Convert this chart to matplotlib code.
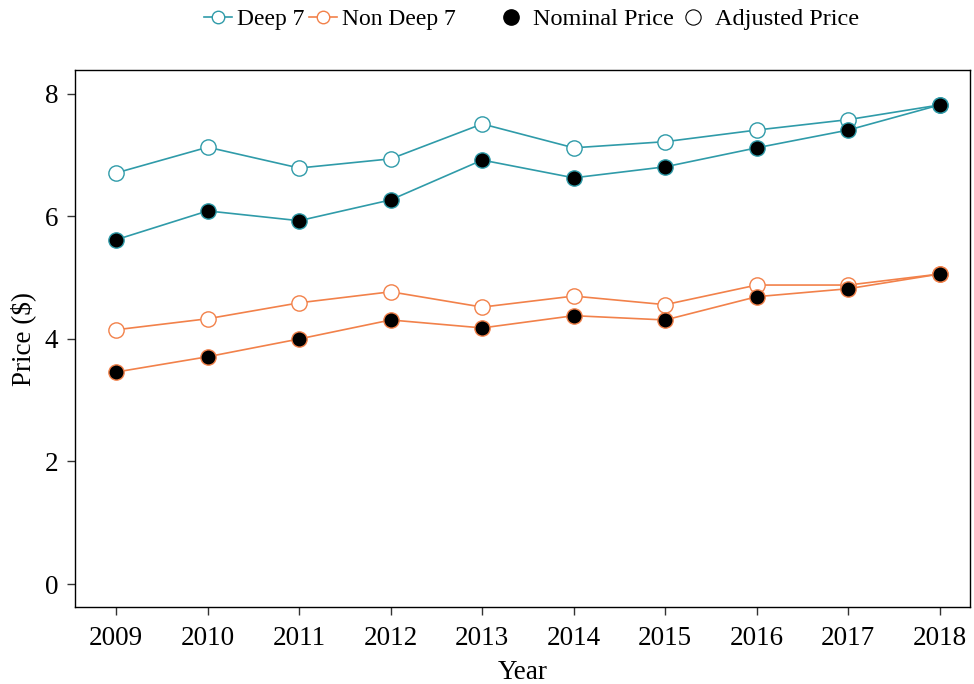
import numpy as np
import matplotlib
matplotlib.use("Agg")
import matplotlib.pyplot as plt
from matplotlib.lines import Line2D

plt.rcParams['font.family'] = ['Liberation Serif', 'DejaVu Serif']

years = [2009, 2010, 2011, 2012, 2013, 2014, 2015, 2016, 2017, 2018]

# Deep 7
deep_adj = [6.71, 7.13, 6.79, 6.94, 7.51, 7.12, 7.22, 7.41, 7.58, 7.82]
deep_nom = [5.62, 6.09, 5.93, 6.27, 6.92, 6.63, 6.81, 7.12, 7.41, 7.82]

# Non Deep 7
non_adj = [4.15, 4.33, 4.59, 4.77, 4.52, 4.70, 4.56, 4.88, 4.88, 5.06]
non_nom = [3.46, 3.71, 4.00, 4.31, 4.18, 4.38, 4.31, 4.69, 4.82, 5.06]

teal = '#2f9ba9'
orange = '#f2814a'

W, H = 974, 684
fig = plt.figure(figsize=(W / 100, H / 100), dpi=100)
ax = fig.add_axes([75 / W, 1 - 607 / H, 895 / W, 537 / H])

ms = 11
for adj, nom, c in [(deep_adj, deep_nom, teal), (non_adj, non_nom, orange)]:
    ax.plot(years, adj, color=c, lw=1.2, marker='o', ms=ms,
            mfc='white', mec=c, mew=1.0, zorder=3)
    ax.plot(years, nom, color=c, lw=1.2, marker='o', ms=ms,
            mfc='black', mec=c, mew=1.0, zorder=3)

ax.set_xlim(2008.55, 2018.33)
ax.set_ylim(-0.375, 8.39)
ax.set_xticks(years)
ax.set_yticks([0, 2, 4, 6, 8])
ax.tick_params(labelsize=19.5, length=6, width=1.0, color='#333333', pad=8)
ax.tick_params(axis='y', pad=6)
ax.set_xlabel('Year', fontsize=19.5, labelpad=6)
ax.set_ylabel('Price ($)', fontsize=19.5, labelpad=6)
for s in ax.spines.values():
    s.set_linewidth(1.0)

# legends above the plot
h1 = [Line2D([], [], color=teal, lw=1.2, marker='o', ms=9, mfc='white', mec=teal),
      Line2D([], [], color=orange, lw=1.2, marker='o', ms=9, mfc='white', mec=orange)]
leg1 = fig.legend(h1, ['Deep 7', 'Non Deep 7'], loc='center left', ncol=2,
                  bbox_to_anchor=(204 / W, 1 - 19 / H), frameon=False, fontsize=17,
                  borderpad=0, borderaxespad=0,
                  handlelength=1.2, handletextpad=0.2, columnspacing=0.2)
h2 = [Line2D([], [], ls='none', marker='o', ms=11, mfc='black', mec='black'),
      Line2D([], [], ls='none', marker='o', ms=11, mfc='white', mec='black', mew=0.8)]
leg2 = fig.legend(h2, ['Nominal Price', 'Adjusted Price'], loc='center left', ncol=2,
                  bbox_to_anchor=(499 / W, 1 - 19 / H), frameon=False, fontsize=17.5,
                  borderpad=0, borderaxespad=0,
                  handlelength=1.0, handletextpad=0.4, columnspacing=0.3)

fig.savefig('out.png', dpi=100)
